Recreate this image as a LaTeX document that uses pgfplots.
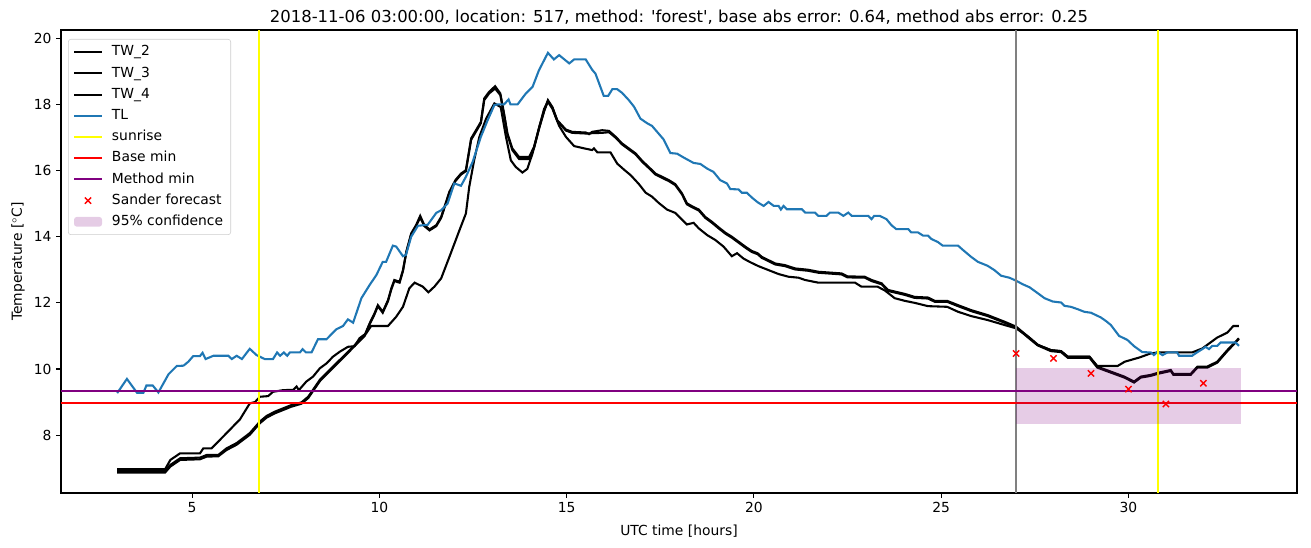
\documentclass[border=0pt]{standalone}
\usepackage{pgfplots}
\pgfplotsset{compat=1.18}
\usepackage{fontspec}
\setmainfont{DejaVu Sans}
\definecolor{tlblue}{HTML}{1F77B4}
\definecolor{mplpurple}{HTML}{800080}
\definecolor{mplgray}{HTML}{808080}
\definecolor{mplyellow}{HTML}{FFFF00}
\definecolor{legedge}{HTML}{CCCCCC}
\pgfplotsset{
  linelegend/.style={legend image code/.code={\draw[##1] (0pt,0pt) -- (21pt,0pt); \path (25.5pt,0pt);}},
  xlegend/.style={legend image code/.code={\draw[##1] plot coordinates {(10.5pt,0pt)}; \path (0pt,0pt) (25.5pt,0pt);}},
  arealegend/.style={legend image code/.code={\fill[##1] (0pt,-3.6pt) rectangle (21pt,3.6pt); \path (25.5pt,0pt);}},
}

\pgfplotstableread{
x y
3.00 9.27
3.26 9.70
3.53 9.28
3.70 9.28
3.78 9.50
3.95 9.50
4.10 9.29
4.37 9.84
4.59 10.09
4.77 10.10
4.90 10.22
5.03 10.39
5.21 10.39
5.28 10.49
5.36 10.30
5.57 10.40
5.97 10.40
6.06 10.30
6.19 10.40
6.33 10.30
6.54 10.61
6.72 10.42
6.94 10.30
7.16 10.30
7.27 10.50
7.35 10.40
7.45 10.50
7.54 10.40
7.61 10.50
7.88 10.50
7.95 10.60
8.04 10.50
8.19 10.50
8.36 10.90
8.59 10.90
8.85 11.20
9.03 11.30
9.16 11.50
9.30 11.40
9.52 12.14
9.74 12.54
9.92 12.84
10.09 13.24
10.18 13.24
10.36 13.73
10.45 13.70
10.63 13.41
10.71 13.45
10.85 14.00
11.03 14.33
11.29 14.36
11.52 14.72
11.65 14.80
11.82 15.00
12.00 15.61
12.18 15.54
12.31 15.81
12.49 16.26
12.71 17.02
12.89 17.52
13.07 17.98
13.16 18.00
13.33 18.00
13.45 18.15
13.50 18.00
13.69 18.00
13.91 18.33
14.09 18.53
14.26 19.03
14.50 19.56
14.66 19.36
14.80 19.49
15.07 19.24
15.20 19.36
15.51 19.36
15.68 19.05
15.77 18.93
15.99 18.26
16.11 18.26
16.22 18.46
16.35 18.46
16.48 18.35
16.66 18.13
16.80 17.93
16.97 17.57
17.15 17.43
17.28 17.35
17.59 16.94
17.77 16.53
17.95 16.51
18.13 16.39
18.39 16.23
18.57 16.20
18.75 16.06
18.92 15.96
19.10 15.71
19.28 15.61
19.37 15.44
19.59 15.43
19.68 15.33
19.81 15.33
19.94 15.19
20.10 15.04
20.26 14.93
20.39 15.05
20.53 14.93
20.66 14.93
20.72 14.82
20.79 14.93
20.88 14.83
21.28 14.83
21.37 14.73
21.63 14.73
21.72 14.63
21.94 14.63
22.03 14.73
22.25 14.73
22.39 14.63
22.52 14.73
22.61 14.63
23.05 14.63
23.14 14.53
23.21 14.63
23.36 14.63
23.54 14.53
23.67 14.35
23.80 14.23
24.12 14.23
24.20 14.13
24.38 14.13
24.52 14.03
24.65 14.03
24.74 13.93
24.91 13.84
25.04 13.73
25.45 13.73
25.58 13.60
25.80 13.39
25.98 13.24
26.24 13.12
26.42 12.99
26.60 12.82
26.82 12.76
27.00 12.67
27.18 12.56
27.36 12.47
27.58 12.29
27.76 12.14
27.98 12.04
28.20 12.01
28.29 11.91
28.46 11.88
28.64 11.81
28.82 11.73
29.00 11.70
29.13 11.63
29.26 11.56
29.40 11.45
29.53 11.33
29.75 11.00
29.97 10.88
30.15 10.69
30.37 10.51
30.60 10.50
30.68 10.42
30.77 10.52
30.91 10.42
31.04 10.50
31.30 10.50
31.35 10.40
31.70 10.40
31.83 10.50
31.97 10.60
32.06 10.67
32.15 10.60
32.24 10.70
32.37 10.70
32.46 10.80
32.86 10.80
32.95 10.70
}\tlTable

\pgfplotstableread{
x y
3.00 6.97
4.28 6.97
4.42 7.25
4.68 7.45
5.21 7.45
5.30 7.60
5.52 7.60
5.92 8.06
6.28 8.48
6.54 8.96
6.68 9.00
6.81 9.16
7.03 9.18
7.16 9.31
7.43 9.36
7.70 9.37
7.79 9.47
7.85 9.36
8.05 9.62
8.23 9.77
8.41 10.02
8.59 10.17
8.76 10.37
8.94 10.52
9.16 10.67
9.34 10.69
9.47 10.93
9.65 11.08
9.78 11.30
10.23 11.30
10.45 11.58
10.63 11.88
10.80 12.44
10.94 12.61
11.16 12.49
11.31 12.32
11.47 12.49
11.65 12.74
11.87 13.39
12.14 14.20
12.31 14.70
12.40 15.51
12.53 16.31
12.67 17.02
12.85 17.57
13.07 18.03
13.24 17.92
13.38 17.02
13.51 16.31
13.64 16.11
13.82 15.94
13.95 16.05
14.09 16.52
14.27 17.32
14.40 17.87
14.50 18.08
14.62 17.87
14.80 17.35
14.98 17.02
15.20 16.74
15.47 16.67
15.68 16.62
15.73 16.67
15.82 16.55
16.17 16.55
16.35 16.21
16.53 16.03
16.71 15.86
16.93 15.59
17.11 15.33
17.28 15.21
17.46 15.02
17.68 14.82
17.90 14.72
18.21 14.37
18.39 14.42
18.53 14.25
18.75 14.05
18.97 13.90
19.19 13.70
19.41 13.41
19.55 13.50
19.72 13.34
19.90 13.23
20.12 13.11
20.39 12.99
20.66 12.87
20.92 12.79
21.19 12.76
21.37 12.69
21.72 12.61
22.70 12.61
22.87 12.49
23.30 12.49
23.50 12.37
23.76 12.14
24.03 12.06
24.29 12.00
24.65 11.90
25.16 11.88
25.45 11.73
25.80 11.60
26.24 11.48
26.69 11.33
27.00 11.23
27.32 10.98
27.58 10.73
27.93 10.57
28.20 10.54
28.38 10.37
28.96 10.37
29.17 10.09
29.71 10.09
29.90 10.22
30.30 10.35
30.59 10.47
30.80 10.50
31.70 10.50
31.97 10.62
32.37 10.95
32.64 11.10
32.80 11.30
32.95 11.30
}\swTable

\pgfplotstableread{
x y
3.00 6.92
4.28 6.92
4.42 7.10
4.68 7.30
5.21 7.32
5.39 7.40
5.70 7.40
5.92 7.60
6.19 7.76
6.54 8.06
6.81 8.41
6.99 8.58
7.21 8.71
7.43 8.81
7.65 8.91
7.92 8.99
8.10 9.16
8.41 9.67
8.76 10.07
9.12 10.47
9.39 10.78
9.61 11.03
9.74 11.38
9.87 11.68
9.96 11.93
10.09 11.73
10.23 12.08
10.32 12.44
10.40 12.69
10.54 12.64
10.63 12.99
10.72 13.55
10.85 14.10
10.98 14.35
11.09 14.63
11.20 14.35
11.34 14.22
11.52 14.35
11.65 14.60
11.87 15.36
12.03 15.71
12.18 15.91
12.31 16.01
12.45 16.97
12.58 17.22
12.71 17.47
12.80 18.18
12.93 18.38
13.09 18.55
13.23 18.33
13.33 17.72
13.42 17.12
13.55 16.67
13.73 16.41
14.00 16.41
14.13 16.72
14.27 17.32
14.40 17.82
14.50 18.13
14.62 17.92
14.75 17.52
14.98 17.24
15.15 17.17
15.51 17.15
15.60 17.10
15.68 17.17
15.95 17.22
16.13 17.20
16.31 17.02
16.48 16.82
16.66 16.67
16.84 16.52
17.02 16.29
17.19 16.11
17.37 15.91
17.55 15.81
17.73 15.71
17.90 15.59
18.08 15.31
18.21 15.01
18.35 14.92
18.53 14.82
18.70 14.60
18.88 14.45
19.06 14.28
19.24 14.12
19.41 14.00
19.59 13.85
19.77 13.70
19.94 13.57
20.10 13.50
20.21 13.39
20.39 13.29
20.57 13.19
20.83 13.14
21.10 13.04
21.45 13.00
21.72 12.94
22.34 12.89
22.50 12.80
22.96 12.79
23.14 12.69
23.41 12.59
23.58 12.39
24.03 12.27
24.29 12.18
24.65 12.16
24.83 12.06
25.16 12.06
25.45 11.93
25.80 11.78
26.24 11.63
26.69 11.43
27.00 11.28
27.32 10.98
27.58 10.73
27.93 10.57
28.20 10.54
28.38 10.37
28.96 10.37
29.17 10.07
29.53 9.92
29.89 9.77
30.15 9.62
30.33 9.77
30.59 9.82
30.77 9.88
31.13 9.97
31.20 9.85
31.66 9.85
31.84 10.07
32.10 10.07
32.37 10.22
32.64 10.57
32.95 10.93
}\pOneTable

\pgfplotstableread{
x y
3.00 6.87
4.28 6.87
4.42 7.05
4.68 7.25
5.21 7.27
5.39 7.35
5.70 7.36
5.92 7.55
6.19 7.71
6.54 8.01
6.81 8.36
6.99 8.53
7.21 8.66
7.43 8.76
7.65 8.86
7.92 8.95
8.10 9.12
8.41 9.63
8.76 10.03
9.12 10.44
9.39 10.75
9.61 11.00
9.74 11.35
9.87 11.65
9.96 11.90
10.09 11.70
10.23 12.05
10.32 12.41
10.40 12.66
10.54 12.61
10.63 12.96
10.72 13.52
10.85 14.07
10.98 14.32
11.09 14.58
11.20 14.32
11.34 14.19
11.52 14.32
11.65 14.57
11.87 15.33
12.03 15.68
12.18 15.88
12.31 15.98
12.45 16.93
12.58 17.18
12.71 17.43
12.80 18.13
12.93 18.33
13.09 18.48
13.23 18.28
13.33 17.68
13.42 17.08
13.55 16.62
13.73 16.35
14.00 16.35
14.13 16.68
14.27 17.29
14.40 17.79
14.50 18.10
14.62 17.90
14.75 17.50
14.98 17.21
15.15 17.14
15.51 17.12
15.68 17.13
15.95 17.14
16.13 17.16
16.31 16.99
16.48 16.79
16.66 16.64
16.84 16.49
17.02 16.26
17.19 16.08
17.37 15.88
17.55 15.78
17.73 15.68
17.90 15.56
18.08 15.28
18.21 14.98
18.35 14.89
18.53 14.79
18.70 14.57
18.88 14.42
19.06 14.25
19.24 14.09
19.41 13.97
19.59 13.82
19.77 13.67
19.94 13.54
20.10 13.47
20.21 13.36
20.39 13.26
20.57 13.16
20.83 13.11
21.10 13.01
21.45 12.97
21.72 12.91
22.34 12.86
22.50 12.77
22.96 12.76
23.14 12.66
23.41 12.56
23.58 12.36
24.03 12.24
24.29 12.15
24.65 12.13
24.83 12.03
25.16 12.03
25.45 11.90
25.80 11.75
26.24 11.60
26.69 11.40
27.00 11.26
27.32 10.95
27.58 10.71
27.93 10.54
28.20 10.51
28.38 10.34
28.96 10.34
29.17 10.04
29.53 9.89
29.89 9.74
30.15 9.59
30.33 9.74
30.59 9.79
30.77 9.85
31.13 9.94
31.20 9.82
31.66 9.82
31.84 10.04
32.10 10.04
32.37 10.19
32.64 10.54
32.95 10.91
}\pTwoTable

\begin{document}
\begin{tikzpicture}
\begin{axis}[
  scale only axis,
  width=927pt, height=347.25pt,
  xmin=1.5, xmax=34.5, ymin=6.25, ymax=20.25,
  xtick={5,10,15,20,25,30}, ytick={8,10,12,14,16,18,20},
  tick align=outside, xtick pos=lower, ytick pos=left,
  major tick length=3.6pt,
  tick style={black, line width=0.83pt},
  axis line style={line width=0.83pt},
  /pgf/number format/assume math mode=true,
  ticklabel style={font=\fontsize{10.4}{12}\selectfont},
  label style={font=\fontsize{10.4}{12}\selectfont},
  xlabel={UTC time [hours]},
  xlabel style={yshift=-2pt},
  ylabel={Temperature [$^\circ$C]},
  title={2018-11-06 03:00:00, location: 517, method: \textquotesingle forest\textquotesingle, base abs error: 0.64, method abs error: 0.25},
  title style={font=\fontsize{12.35}{15}\selectfont, yshift=-5.5pt},
  legend cell align=left,
  legend style={at={(0.0057,0.9806)}, anchor=north west,
    draw=legedge, rounded corners=2pt, fill=white, fill opacity=0.8, text opacity=1,
    font=\fontsize{10.4}{12}\selectfont,
    inner xsep=3.5pt, inner ysep=2.5pt, row sep=1.5pt,
    nodes={inner sep=2.2pt, text height=7.8pt, text depth=2.2pt}},
  linelegend,
  every axis plot/.append style={line width=1.56pt},
]
\addplot[black] table[x=x,y=y] {\pOneTable};
\addlegendentry{TW\_2}
\addplot[black] table[x=x,y=y] {\pTwoTable};
\addlegendentry{TW\_3}
\addplot[black] table[x=x,y=y] {\swTable};
\addlegendentry{TW\_4}
\addplot[tlblue] table[x=x,y=y] {\tlTable};
\addlegendentry{TL}
\addplot[mplyellow] coordinates {(6.78,6.25) (6.78,20.25)};
\addlegendentry{sunrise}
\addplot[mplyellow, forget plot] coordinates {(30.8,6.25) (30.8,20.25)};
\addplot[mplgray, forget plot] coordinates {(27.0,6.25) (27.0,20.25)};
\addplot[red] coordinates {(1.5,8.97) (34.5,8.97)};
\addlegendentry{Base min}
\addplot[mplpurple] coordinates {(1.5,9.34) (34.5,9.34)};
\addlegendentry{Method min}
\addplot[red, only marks, mark=x, mark size=3.3pt, line width=1.04pt, xlegend]
  coordinates {(27,10.47) (28,10.32) (29,9.87) (30,9.39) (31,8.94) (32,9.57)};
\addlegendentry{Sander forecast}
\addplot[draw=none, fill=mplpurple, fill opacity=0.2, arealegend]
  coordinates {(27,8.35) (33,8.35) (33,10.04) (27,10.04)} -- cycle;
\addlegendentry{95\% confidence}
\end{axis}
\pgfresetboundingbox
\path (-45.75pt,-40.5pt) rectangle (937.5pt,369.75pt);
\end{tikzpicture}
\end{document}
